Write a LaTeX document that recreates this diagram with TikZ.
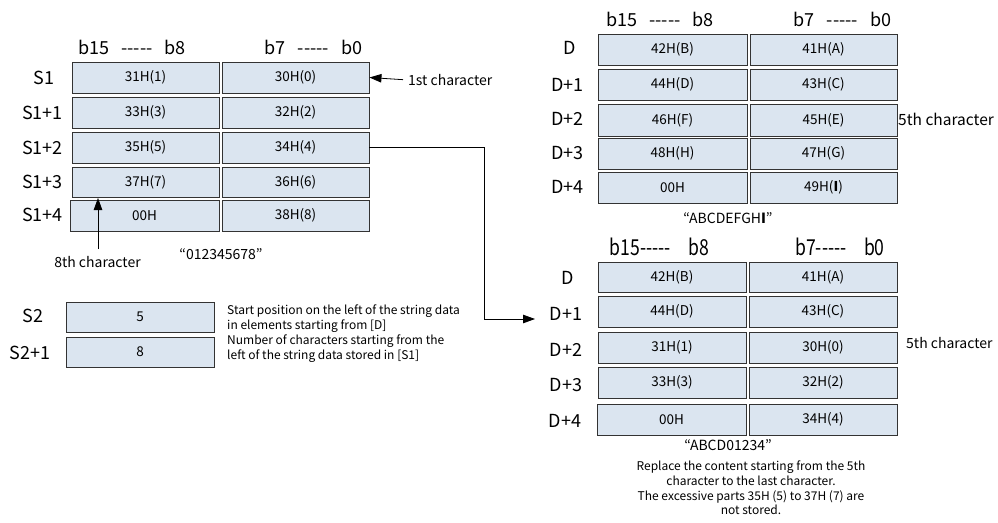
\documentclass[tikz,border=0pt]{standalone}
\usepackage{fontspec}
\setmainfont{Noto Sans CJK KR}
\usetikzlibrary{arrows.meta}
\definecolor{cellblue}{HTML}{DBE5F0}
\definecolor{edge}{HTML}{333333}
\newcommand{\dsh}{-{}-{}-{}-{}-}
\begin{document}
\begin{tikzpicture}[x=1pt,y=-1pt,
  cell/.style={draw=edge, fill=cellblue, line width=0.9pt, inner sep=0pt, minimum height=31pt, minimum width=147pt, font=\fontsize{13.5}{15}\selectfont},
  hdr/.style={inner sep=0pt, font=\fontsize{18}{20}\selectfont},
  hdrb/.style={inner sep=0pt, font=\fontsize{22}{24}\selectfont},
  rowlab/.style={inner sep=0pt, font=\fontsize{18}{20}\selectfont},
  note/.style={inner sep=0pt, font=\fontsize{14}{16}\selectfont},
  small/.style={inner sep=0pt, font=\fontsize{12}{14.8}\selectfont, align=left},
  smallc/.style={inner sep=0pt, font=\fontsize{12}{14.6}\selectfont, align=center},
  arr/.style={-{Triangle[length=12pt,width=8.5pt]}, line width=0.8pt, draw=black}
]
\useasboundingbox (0,0) rectangle (998,522);

% ---------- left table S1 ----------
\node[hdr] (lh1) at (132,47) {b15\hspace{12pt}\dsh\hspace{12pt}b8};
\node[hdr] (lh2) at (313.5,47) {b7\hspace{12pt}\dsh\hspace{12pt}b0};

\node[cell] (a1l) at (145.5,77.5) {31H(1)};
\node[cell] (a1r) at (295.5,77.5) {30H(0)};
\node[cell] (a2l) at (145.5,112.5) {33H(3)};
\node[cell] (a2r) at (295.5,112.5) {32H(2)};
\node[cell] (a3l) at (145.5,147.5) {35H(5)};
\node[cell] (a3r) at (295.5,147.5) {34H(4)};
\node[cell, minimum height=30pt] (a4l) at (145.5,182) {37H(7)};
\node[cell, minimum height=30pt] (a4r) at (295.5,182) {36H(6)};
\node[cell, minimum width=149pt] (a5l) at (144.5,215.5) {00H};
\node[cell] (a5r) at (295.5,215.5) {38H(8)};

\node[rowlab] (la1) at (44,78) {S1};
\node[rowlab] (la2) at (42.5,113) {S1+1};
\node[rowlab] (la3) at (42.5,148) {S1+2};
\node[rowlab] (la4) at (42.5,182) {S1+3};
\node[rowlab] (la5) at (42.5,215) {S1+4};

\node[note, anchor=west] (first) at (408,80) {1st character};
\draw[arr, shorten <=5pt] (first.west) -- (a1r.east);

\node[note] (eighth) at (97.5,262) {8th character};
\coordinate (e8a) at (98,249);
\coordinate (e8b) at (98,198);
\draw[arr] (e8a) -- (e8b);

\node[note] (str1) at (221,254) {“012345678”};

% ---------- S2 ----------
\node[cell, minimum width=148pt, minimum height=30pt] (s2) at (140,317) {5};
\node[cell, minimum width=148pt, minimum height=30pt] (s21) at (140,352) {8};
\node[rowlab] (ls2) at (33,316) {S2};
\node[rowlab] (ls21) at (30,353) {S2+1};
\node[small, anchor=north west] (txt1) at (227,305) {Start position on the left of the string data\\in elements starting from [D]};
\node[small, anchor=north west] (txt2) at (227,335) {Number of characters starting from the\\left of the string data stored in [S1]};

% ---------- top right table ----------
\node[hdr] (rh1) at (660,19) {b15\hspace{12pt}\dsh\hspace{12pt}b8};
\node[hdr] (rh2) at (842.5,19) {b7\hspace{12pt}\dsh\hspace{12pt}b0};

\node[cell, minimum width=149pt] (b1l) at (672.5,49.5) {42H(B)};
\node[cell] (b1r) at (823.5,49.5) {41H(A)};
\node[cell, minimum width=149pt] (b2l) at (672.5,84.5) {44H(D)};
\node[cell] (b2r) at (823.5,84.5) {43H(C)};
\node[cell, minimum width=149pt, minimum height=32pt] (b3l) at (672.5,120) {46H(F)};
\node[cell, minimum height=32pt] (b3r) at (823.5,120) {45H(E)};
\node[cell, minimum width=149pt] (b4l) at (672.5,153.5) {48H(H)};
\node[cell] (b4r) at (823.5,153.5) {47H(G)};
\node[cell, minimum width=149pt] (b5l) at (672.5,187.5) {00H};
\node[cell] (b5r) at (823.5,187.5) {49H(\textbf{I})};

\node[rowlab] (lb1) at (570,48) {D};
\node[rowlab] (lb2) at (567.5,85) {D+1};
\node[rowlab] (lb3) at (567.5,119) {D+2};
\node[rowlab] (lb4) at (567.5,153) {D+3};
\node[rowlab] (lb5) at (567.5,187) {D+4};
\node[note, anchor=west, font=\fontsize{15.5}{17}\selectfont] (fifth1) at (898,119) {5th character};
\node[note] (str2) at (728,218) {“ABCDEFGH\textbf{I}”};

% ---------- bottom right table ----------
\node[hdrb] (qh1) at (659.5,247) {\scalebox{0.8}[1]{b15\dsh\hspace{22pt}b8}};
\node[hdrb] (qh2) at (840,247) {\scalebox{0.8}[1]{b7\dsh\hspace{22pt}b0}};

\node[cell, minimum width=148pt, minimum height=30pt] (c1l) at (672,277) {42H(B)};
\node[cell, minimum width=148pt, minimum height=30pt] (c1r) at (823,277) {41H(A)};
\node[cell, minimum width=148pt] (c2l) at (672,311.5) {44H(D)};
\node[cell, minimum width=148pt] (c2r) at (823,311.5) {43H(C)};
\node[cell, minimum width=148pt] (c3l) at (672,347.5) {31H(1)};
\node[cell, minimum width=148pt] (c3r) at (823,347.5) {30H(0)};
\node[cell, minimum width=148pt] (c4l) at (672,382.5) {33H(3)};
\node[cell, minimum width=148pt] (c4r) at (823,382.5) {32H(2)};
\node[cell, minimum width=149pt] (c5l) at (671.5,419.5) {00H};
\node[cell, minimum width=148pt] (c5r) at (823,419.5) {34H(4)};

\node[rowlab] (lc1) at (567.5,278) {D};
\node[rowlab] (lc2) at (566,314) {D+1};
\node[rowlab] (lc3) at (566,350) {D+2};
\node[rowlab] (lc4) at (566,385) {D+3};
\node[rowlab] (lc5) at (565,421) {D+4};
\node[note, anchor=west] (fifth2) at (906,343) {5th character};
\node[note] (str3) at (728,445) {“ABCD01234”};
\node[smallc, anchor=north] (expl) at (751,461) {Replace the content starting from the 5th\\character to the last character.\\The excessive parts 35H (5) to 37H (7) are\\not stored.};

% ---------- connector ----------
\coordinate (k1) at (484,147.5);
\coordinate (k2) at (484,319);
\coordinate (tip) at (535,319);
\draw[line width=0.8pt] (a3r.east) -- (k1) -- (k2);
\draw[arr] (k2) -- (tip);
\end{tikzpicture}
\end{document}
